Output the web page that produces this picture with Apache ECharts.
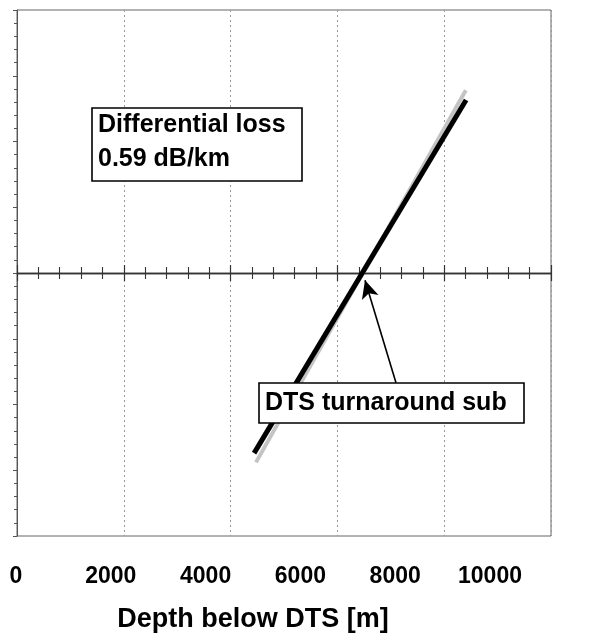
<!DOCTYPE html>
<html>
<head>
<meta charset="utf-8">
<script src="https://cdn.jsdelivr.net/npm/echarts@6/dist/echarts.min.js"></script>
<style>html,body{margin:0;padding:0;background:#fff;}#c{width:589px;height:643px;}</style>
</head>
<body>
<div id="c"></div>
<script>
// ---- data ----
const xTickValues = [0, 2000, 4000, 6000, 8000, 10000];
const fitX = [4440, 8410];          // fitted line (depth, m)
const fitY = [-2.74, 2.63];         // relative loss (arb. units)
const measX = [4475, 8405];         // measured trace extent
const measY = [-2.88, 2.78];
const arrowFrom = [7097, -1.67];
const arrowTo = [6517, -0.11];
const lossText = ['Differential loss', '0.59 dB/km'];
const subText = 'DTS turnaround sub';
const xTitle = 'Depth below DTS [m]';

const FONT = '"Liberation Sans", Arial, sans-serif';
const chart = echarts.init(document.getElementById('c'), null, {renderer: 'canvas'});

const fitData = fitX.map((x, i) => [x, fitY[i]]);
const measData = measX.map((x, i) => [x, measY[i]]);

const tickCommon = {
  min: xTickValues[0], max: xTickValues[xTickValues.length - 1], interval: 2000
};

chart.setOption({
  animation: false,
  backgroundColor: '#fff',
  grid: [
    {left: 17, top: 10, width: 534, height: 526, show: true, borderColor: '#666', borderWidth: 1, backgroundColor: 'transparent'},
    {left: 16, top: 560, width: 474, height: 1, show: false}
  ],
  xAxis: [
    Object.assign({type: 'value', gridIndex: 0, position: 'bottom',
      axisLine: {show: true, onZero: true, onZeroAxisIndex: 0, lineStyle: {color: '#333', width: 1.3}},
      axisTick: {show: true, inside: false, length: 8, lineStyle: {color: '#333', width: 1.2}},
      minorTick: {show: true, splitNumber: 5, length: 6, lineStyle: {color: '#333', width: 1.1}},
      axisLabel: {show: false},
      splitLine: {show: true, lineStyle: {color: '#999', width: 1, type: [2, 3]}}
    }, tickCommon),
    Object.assign({type: 'value', gridIndex: 0, position: 'top',
      axisLine: {show: true, onZero: true, onZeroAxisIndex: 0, lineStyle: {color: '#333', width: 1.3}},
      axisTick: {show: true, inside: false, length: 8, lineStyle: {color: '#333', width: 1.2}},
      minorTick: {show: true, splitNumber: 5, length: 6, lineStyle: {color: '#333', width: 1.1}},
      axisLabel: {show: false},
      splitLine: {show: false}
    }, tickCommon),
    Object.assign({type: 'value', gridIndex: 1, position: 'bottom',
      axisLine: {show: false, onZero: false}, axisTick: {show: false},
      splitLine: {show: false},
      axisLabel: {show: true, margin: 4, color: '#000', fontFamily: FONT, fontWeight: 'bold', fontSize: 23,
        showMinLabel: true, showMaxLabel: true, formatter: v => String(v)},
      name: xTitle, nameLocation: 'middle', nameGap: 45,
      nameTextStyle: {color: '#000', fontFamily: FONT, fontWeight: 'bold', fontSize: 27}
    }, tickCommon)
  ],
  yAxis: [
    {type: 'value', gridIndex: 0, min: -4, max: 4, interval: 1,
      axisLine: {show: true, onZero: false, lineStyle: {color: '#555', width: 1}},
      axisTick: {show: true, inside: false, length: 4, lineStyle: {color: '#555'}},
      minorTick: {show: true, splitNumber: 5, length: 3, lineStyle: {color: '#555'}},
      axisLabel: {show: false}, splitLine: {show: false}},
    {type: 'value', gridIndex: 1, show: false, min: 0, max: 1}
  ],
  series: [
    {type: 'line', xAxisIndex: 0, yAxisIndex: 0, data: measData, symbol: 'none', silent: true,
      lineStyle: {color: '#c4c4c4', width: 4}, z: 2},
    {type: 'line', xAxisIndex: 0, yAxisIndex: 0, data: fitData, symbol: 'none', silent: true,
      lineStyle: {color: '#000', width: 5}, z: 3,
      markLine: {silent: true, symbol: ['none', 'arrow'], symbolSize: [13, 18],
        lineStyle: {color: '#000', width: 1.6, type: 'solid'}, label: {show: false},
        data: [[{coord: arrowFrom}, {coord: arrowTo}]]}}
  ],
  graphic: [
    {type: 'rect', z: 100, shape: {x: 92, y: 108, width: 210, height: 73},
      style: {fill: '#fff', stroke: '#000', lineWidth: 1.6}},
    {type: 'text', z: 101, x: 98, y: 108,
      style: {text: lossText.join('\n'), fill: '#000', font: 'bold 25px ' + FONT, lineHeight: 34,
        verticalAlign: 'top', align: 'left'}},
    {type: 'rect', z: 100, shape: {x: 259, y: 383, width: 265, height: 40},
      style: {fill: '#fff', stroke: '#000', lineWidth: 1.6}},
    {type: 'text', z: 101, x: 265, y: 403,
      style: {text: subText, fill: '#000', font: 'bold 25px ' + FONT,
        verticalAlign: 'middle', align: 'left'}}
  ]
});
</script>
</body>
</html>
